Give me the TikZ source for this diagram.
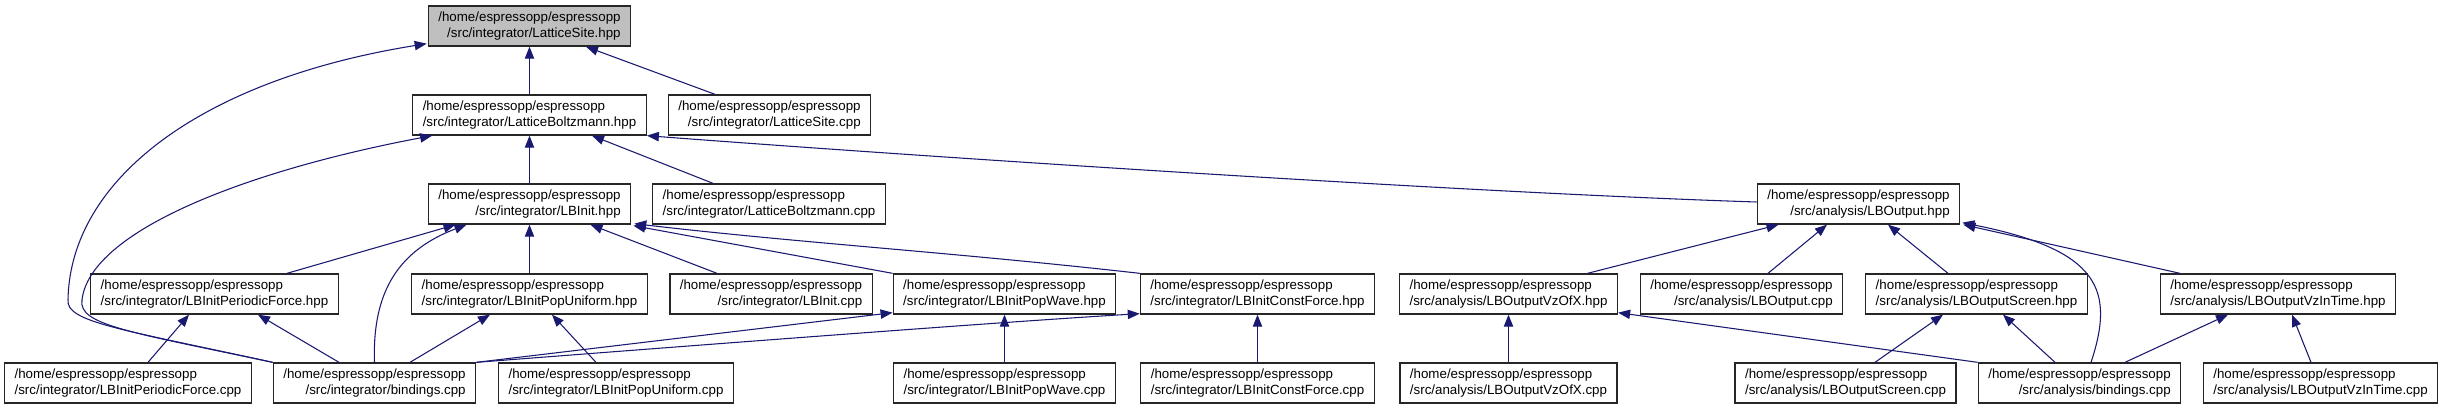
\documentclass[tikz,border=0pt]{standalone}
\usepackage{fontspec}
\setmainfont{Liberation Sans}
\usetikzlibrary{arrows.meta,calc}

\definecolor{edgeblue}{HTML}{191970}
\definecolor{rootgray}{HTML}{BFBFBF}

\newcommand{\espath}[1]{\begin{tabular}{@{}l@{}}/home/espressopp/espressopp\\\hfill#1\hfill\end{tabular}}

\begin{document}
\begin{tikzpicture}[x=0.75bp, y=-0.75bp, >={Triangle[length=9bp,width=7bp]},
    file/.style={draw=black!85, line width=1bp, fill=white, inner xsep=7.5bp, inner ysep=0pt,
      minimum height=30bp, font=\fontsize{10bp}{12bp}\selectfont},
    inc/.style={->, draw=edgeblue, fill=none, line width=0.8bp}]
    \useasboundingbox (0,0) rectangle (2445,409);

    % Root
    \node[file, fill=rootgray] (lsh) at (529.5,26) {\espath{/src/integrator/LatticeSite.hpp}};

    % Second row
    \node[file] (lbh) at (529.5,115) {\espath{/src/integrator/LatticeBoltzmann.hpp}};
    \node[file] (lsc) at (769.5,115) {\espath{/src/integrator/LatticeSite.cpp}};

    % Third row
    \node[file] (lih) at (529.5,204) {\espath{/src/integrator/LBInit.hpp}};
    \node[file] (lbc) at (769,204) {\espath{/src/integrator/LatticeBoltzmann.cpp}};
    \node[file] (loh) at (1858.5,204) {\espath{/src/analysis/LBOutput.hpp}};

    % Fourth row
    \node[file] (pfh) at (214.5,294) {\espath{/src/integrator/LBInitPeriodicForce.hpp}};
    \node[file] (puh) at (529.5,294) {\espath{/src/integrator/LBInitPopUniform.hpp}};
    \node[file] (lic) at (771,294) {\espath{/src/integrator/LBInit.cpp}};
    \node[file] (pwh) at (1004.5,294) {\espath{/src/integrator/LBInitPopWave.hpp}};
    \node[file] (cfh) at (1257.5,294) {\espath{/src/integrator/LBInitConstForce.hpp}};
    \node[file] (vxh) at (1508.5,294) {\espath{/src/analysis/LBOutputVzOfX.hpp}};
    \node[file] (loc) at (1741.5,294) {\espath{/src/analysis/LBOutput.cpp}};
    \node[file] (sch) at (1976.5,294) {\espath{/src/analysis/LBOutputScreen.hpp}};
    \node[file] (vth) at (2278,294) {\espath{/src/analysis/LBOutputVzInTime.hpp}};

    % Bottom row
    \node[file] (pfc) at (128,383) {\espath{/src/integrator/LBInitPeriodicForce.cpp}};
    \node[file] (ibc) at (374.5,383) {\espath{/src/integrator/bindings.cpp}};
    \node[file] (puc) at (616,383) {\espath{/src/integrator/LBInitPopUniform.cpp}};
    \node[file] (pwc) at (1004.5,383) {\espath{/src/integrator/LBInitPopWave.cpp}};
    \node[file] (cfc) at (1257.5,383) {\espath{/src/integrator/LBInitConstForce.cpp}};
    \node[file] (vxc) at (1508.5,383) {\espath{/src/analysis/LBOutputVzOfX.cpp}};
    \node[file] (scc) at (1845.5,383) {\espath{/src/analysis/LBOutputScreen.cpp}};
    \node[file] (abc) at (2079.5,383) {\espath{/src/analysis/bindings.cpp}};
    \node[file] (vtc) at (2320.5,383) {\espath{/src/analysis/LBOutputVzInTime.cpp}};

    % Includes of LatticeSite.hpp
    \draw[inc] (lbh.north) -- (lsh.south);
    \draw[inc] ($(lsc.north)+(-54.5,0)$) -- ($(lsh.south)+(56.5,0)$);
    \draw[inc] (ibc.north west) .. controls (120,329) and (66,322) .. (68,300)
      .. controls (70,180) and (200,80) .. ($(lsh.south west)+(-1,-3)$);

    % Includes of LatticeBoltzmann.hpp
    \draw[inc] (lih.north) -- (lbh.south);
    \draw[inc] ($(lbc.north)+(-56,0)$) -- ($(lbh.south)+(62.5,0)$);
    \draw[inc] ($(loh.west)+(0,-2)$) .. controls (1450,192) and (900,155) .. (lbh.south east);
    \draw[inc] (ibc.north west) .. controls (130,332) and (78,325) .. (82,300)
      .. controls (90,230) and (250,170) .. ($(lbh.south west)+(20,0)$);

    % Includes of LBInit.hpp
    \draw[inc] ($(pfh.north)+(72.5,0)$) -- ($(lih.south)+(-74,0)$);
    \draw[inc] (ibc.north) .. controls (372,290) and (400,250) .. ($(lih.south)+(-63,0)$);
    \draw[inc] (puh.north) -- (lih.south);
    \draw[inc] ($(lic.north)+(-54,0)$) -- ($(lih.south)+(61,0)$);
    \draw[inc] (pwh.north west) -- ($(lih.south east)+(2,1)$);
    \draw[inc] (cfh.north west) .. controls (950,252) and (800,243) .. ($(lih.south east)+(3,-1)$);

    % Integrator leaves
    \draw[inc] ($(pfc.north)+(20,0)$) -- ($(pfh.south)+(-25.5,0)$);
    \draw[inc] ($(ibc.north)+(-35.5,0)$) -- ($(pfh.south)+(43.5,0)$);
    \draw[inc] ($(ibc.north)+(35.5,0)$) -- ($(puh.south)+(-39.5,0)$);
    \draw[inc] ($(puc.north)+(-20,0)$) -- ($(puh.south)+(22.5,0)$);
    \draw[inc] (ibc.north east) -- ($(pwh.south west)+(0,-2)$);
    \draw[inc] (ibc.north east) .. controls (700,345) and (1000,322) .. ($(cfh.south west)+(0,-1)$);
    \draw[inc] (pwc.north) -- (pwh.south);
    \draw[inc] (cfc.north) -- (cfh.south);

    % Includes of LBOutput.hpp
    \draw[inc] ($(vxh.north)+(79,0)$) -- ($(loh.south)+(-80,0)$);
    \draw[inc] ($(loc.north)+(26.5,0)$) -- ($(loh.south)+(-31.5,0)$);
    \draw[inc] ($(sch.north)+(-28.5,0)$) -- ($(loh.south)+(29.5,0)$);
    \draw[inc] ($(vth.north)+(-98,0)$) -- ($(loh.south east)+(3,0)$);
    \draw[inc] ($(abc.north)+(11.5,0)$) .. controls (2115,290) and (2100,250) .. ($(loh.south east)+(2,-2)$);

    % Analysis leaves
    \draw[inc] (vxc.north) -- (vxh.south);
    \draw[inc] (abc.north west) -- ($(vxh.south east)+(0,-2)$);
    \draw[inc] ($(scc.north)+(29.5,0)$) -- ($(sch.south)+(-33.5,0)$);
    \draw[inc] ($(abc.north)+(-24.5,0)$) -- ($(sch.south)+(26.5,0)$);
    \draw[inc] ($(abc.north)+(45.5,0)$) -- ($(vth.south)+(-50,0)$);
    \draw[inc] ($(vtc.north)+(-9.5,0)$) -- ($(vth.south)+(14,0)$);
  \end{tikzpicture}
\end{document}
